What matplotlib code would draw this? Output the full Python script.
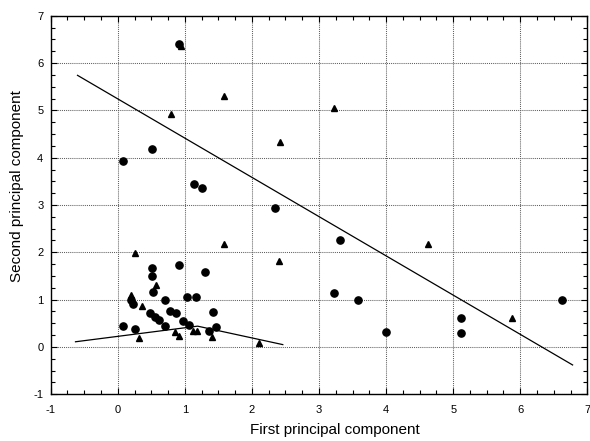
import matplotlib
matplotlib.use("Agg")
import matplotlib.pyplot as plt
from matplotlib.ticker import MultipleLocator

plt.rcParams['font.family'] = ['Liberation Sans', 'DejaVu Sans']
plt.rcParams['axes.unicode_minus'] = False

circle_x = [0.08, 0.25, 0.20, 0.23, 0.51, 0.51, 0.53, 0.48, 0.56, 0.62, 0.70, 0.70,
            0.78, 0.87, 0.92, 0.97, 1.03, 1.06, 1.16, 1.30, 1.42, 1.36, 1.46,
            0.91, 0.08, 0.51, 1.13, 1.25, 2.34, 3.32, 3.22, 3.58, 4.00, 5.11, 5.11, 6.62]
circle_y = [0.45, 0.37, 1.00, 0.90, 1.67, 1.50, 1.16, 0.72, 0.64, 0.57, 0.45, 1.00,
            0.75, 0.72, 1.74, 0.54, 1.05, 0.47, 1.05, 1.58, 0.73, 0.33, 0.43,
            6.40, 3.94, 4.18, 3.44, 3.35, 2.93, 2.27, 1.14, 0.99, 0.31, 0.61, 0.29, 0.99]

tri_x = [0.25, 0.19, 0.36, 0.57, 0.31, 0.86, 0.91, 1.12, 1.18, 1.41, 2.11, 1.58,
         2.40, 0.94, 0.79, 1.58, 2.42, 3.23, 4.62, 5.88]
tri_y = [1.99, 1.09, 0.87, 1.31, 0.20, 0.32, 0.23, 0.33, 0.33, 0.22, 0.08, 2.17,
         1.81, 6.35, 4.92, 5.30, 4.33, 5.04, 2.17, 0.62]

upper_line_x = [-0.60, 6.78]
upper_line_y = [5.74, -0.38]
lower_line_x = [-0.63, 1.19, 2.46]
lower_line_y = [0.11, 0.44, 0.05]

xlabel = "First principal component"
ylabel = "Second principal component"

fig = plt.figure(figsize=(5.9, 4.41), dpi=100)
ax = fig.add_axes([0.0859, 0.1059, 0.9096, 0.8585])

ax.set_xlim(-1, 7)
ax.set_ylim(-1, 7)
ax.xaxis.set_major_locator(MultipleLocator(1))
ax.yaxis.set_major_locator(MultipleLocator(1))
ax.xaxis.set_minor_locator(MultipleLocator(0.25))
ax.yaxis.set_minor_locator(MultipleLocator(0.25))

ax.grid(True, which='major', color='#606060', linestyle=(0, (1, 1)), linewidth=0.75)
ax.set_axisbelow(True)

ax.plot(upper_line_x, upper_line_y, color='black', linewidth=0.9)
ax.plot(lower_line_x, lower_line_y, color='black', linewidth=0.9)

ax.plot(circle_x, circle_y, linestyle='none', marker='o', markersize=5.2,
        color='black')
ax.plot(tri_x, tri_y, linestyle='none', marker='^', markersize=5.0,
        color='black')

ax.tick_params(which='both', direction='in', top=True, right=True, labelsize=8,
               width=0.8)
ax.tick_params(which='major', length=4)
ax.tick_params(which='minor', length=3)
ax.tick_params(axis='x', which='major', pad=8)
ax.tick_params(axis='y', which='major', pad=5.3)
for s in ax.spines.values():
    s.set_linewidth(1.0)

ax.set_xlabel(xlabel, fontsize=11)
ax.set_ylabel(ylabel, fontsize=11)
ax.xaxis.set_label_coords(0.53, -0.077)
ax.yaxis.set_label_coords(-0.049, 0.549)

fig.savefig("out.png", dpi=100)
